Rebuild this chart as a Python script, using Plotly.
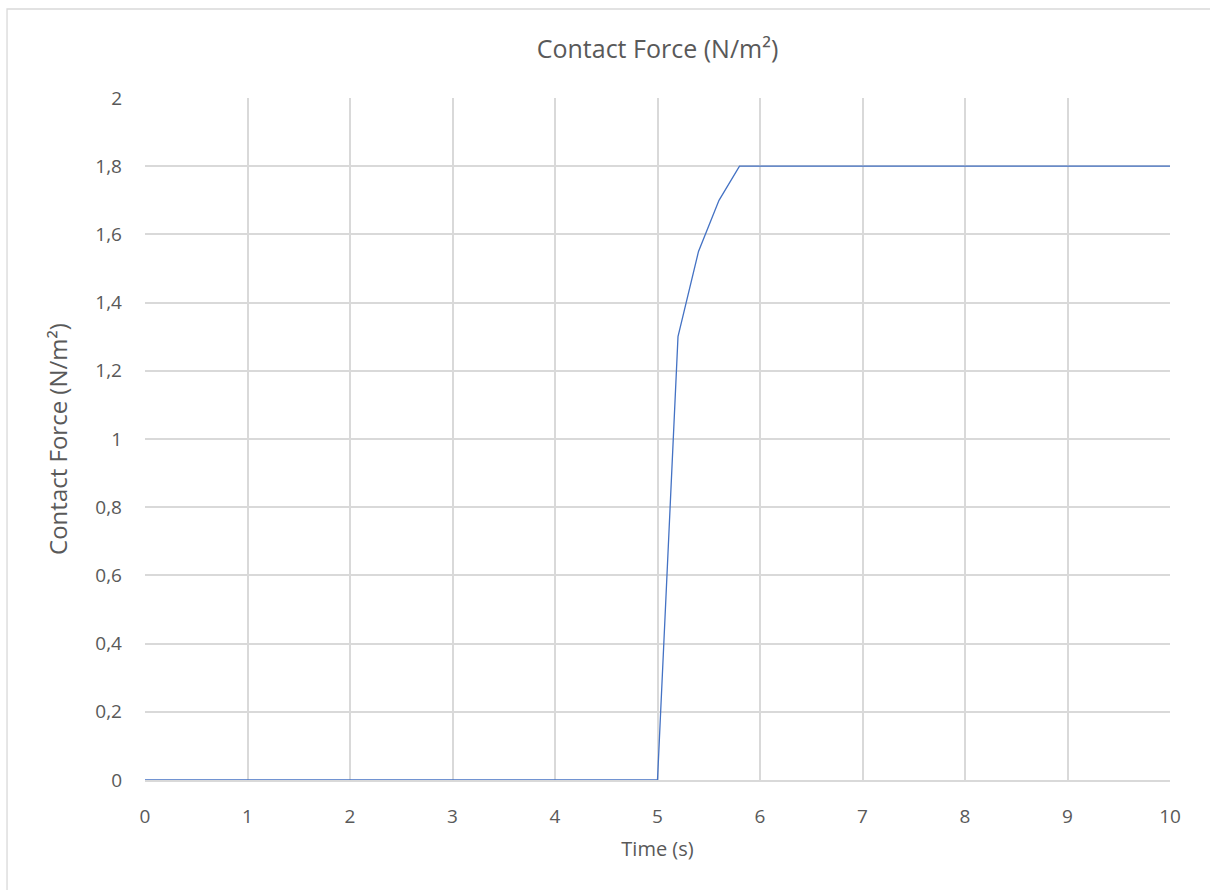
import plotly.graph_objects as go

# Contact force history
time_s = [0, 5.0, 5.2, 5.4, 5.6, 5.8, 10]
force = [0, 0, 1.3, 1.55, 1.7, 1.8, 1.8]

x_ticks = [0, 1, 2, 3, 4, 5, 6, 7, 8, 9, 10]
y_ticks = [0, 0.2, 0.4, 0.6, 0.8, 1.0, 1.2, 1.4, 1.6, 1.8, 2.0]

grey_text = "#595959"
grid = "#D9D9D9"
font_family = "Open Sans, Liberation Sans, sans-serif"

fig = go.Figure()
fig.add_trace(go.Scatter(
    x=time_s, y=force, mode="lines",
    line=dict(color="#4472C4", width=1.3),
    showlegend=False,
))

fig.update_layout(
    width=1210, height=890,
    margin=dict(l=145, r=40, t=98, b=110),
    paper_bgcolor="white", plot_bgcolor="white",
    separators=", ",
    font=dict(family=font_family, color=grey_text, size=19),
    title=dict(
        text="Contact Force (N/m²)",
        x=0.5, xanchor="center", xref="paper",
        y=0.945, yanchor="middle",
        font=dict(size=25, color=grey_text),
    ),
    xaxis=dict(
        range=[0, 10], tickvals=x_ticks,
        showgrid=True, gridcolor=grid, gridwidth=1.5,
        showline=True, linecolor=grid, linewidth=1.5,
        zeroline=False, ticks="", ticklabelstandoff=18,
        tickfont=dict(size=19, color=grey_text),
        title=dict(text="Time (s)", font=dict(size=20, color=grey_text), standoff=14),
    ),
    yaxis=dict(
        range=[0, 2], tickvals=y_ticks,
        tickformat="~g",
        showgrid=True, gridcolor=grid, gridwidth=1.5,
        showline=False, zeroline=False, ticks="",
        ticklabelstandoff=22,
        tickfont=dict(size=19, color=grey_text),
        title=dict(text="Contact Force (N/m²)",
                   font=dict(size=24, color=grey_text), standoff=20),
    ),
    shapes=[dict(
        type="rect", xref="paper", yref="paper",
        x0=-0.1346, x1=1.2, y0=-0.5, y1=1.1305,
        line=dict(color=grid, width=1.3), fillcolor="rgba(0,0,0,0)",
        layer="below",
    )],
)

fig.write_html("out.html")
